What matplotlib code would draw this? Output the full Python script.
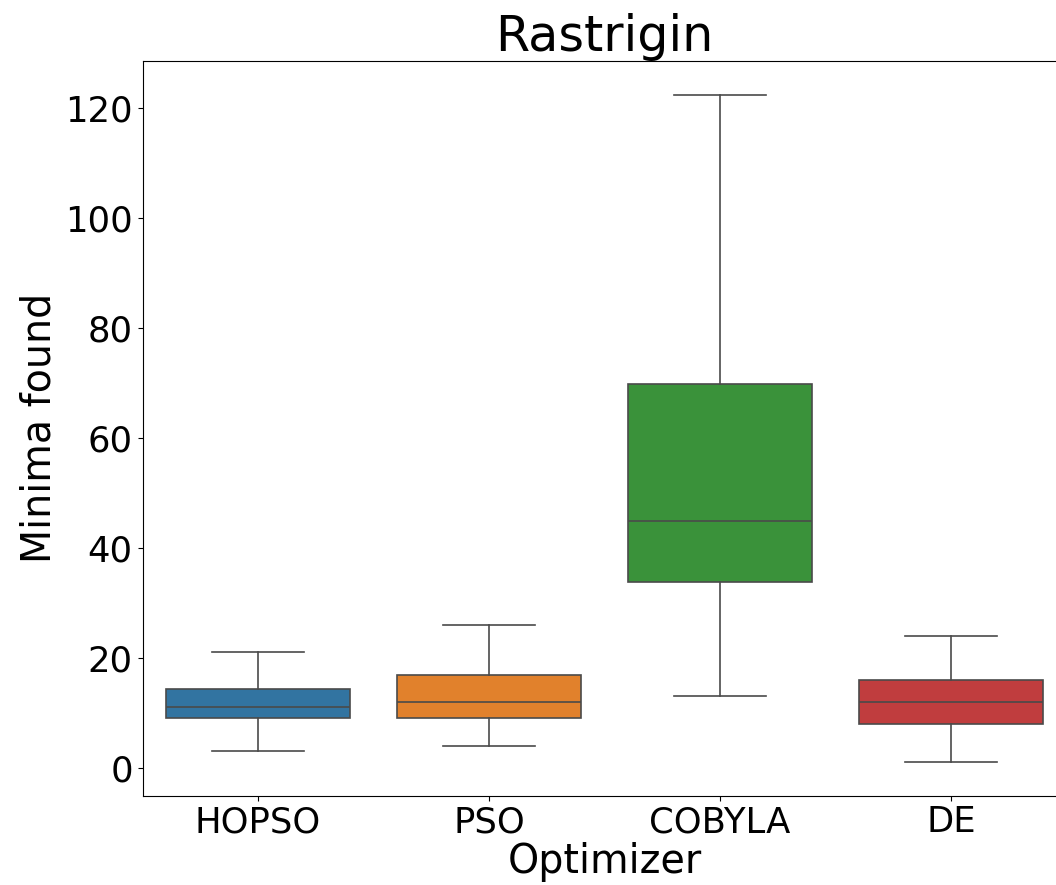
import matplotlib
matplotlib.use("Agg")
import matplotlib.pyplot as plt

optimizers = ["HOPSO", "PSO", "COBYLA", "DE"]
whislo = [3, 4, 13, 1]
q1 = [9, 9, 33.8, 8]
med = [11, 12, 44.8, 12]
q3 = [14.3, 16.9, 69.7, 16]
whishi = [21, 26, 122.4, 24]
colors = ["#3274a1", "#e1812c", "#3a923a", "#c03d3e"]

stats = [
    {"label": n, "whislo": lo, "q1": a, "med": m, "q3": b, "whishi": hi, "fliers": []}
    for n, lo, a, m, b, hi in zip(optimizers, whislo, q1, med, q3, whishi)
]

fig = plt.figure(figsize=(10.56, 8.85), dpi=100)
ax = fig.add_axes([0.135, 0.101, 0.875, 0.830])

line = "#4a4a4a"
bp = ax.bxp(stats, positions=range(len(stats)), widths=0.8, patch_artist=True,
            showfliers=False,
            boxprops=dict(edgecolor=line, linewidth=1.2),
            medianprops=dict(color=line, linewidth=1.2),
            whiskerprops=dict(color=line, linewidth=1.2),
            capprops=dict(color=line, linewidth=1.2))
for patch, c in zip(bp["boxes"], colors):
    patch.set_facecolor(c)

ax.set_xlim(-0.5, 3.5)
ax.set_ylim(-5.1, 128.5)
ax.set_xticks(range(len(optimizers)))
ax.set_xticklabels(optimizers)
ax.tick_params(labelsize=25.5)
ax.set_title("Rastrigin", fontsize=35.5)
ax.set_xlabel("Optimizer", fontsize=28.5, labelpad=2)
ax.set_ylabel("Minima found", fontsize=28.5)

fig.savefig("out.png", dpi=100)
